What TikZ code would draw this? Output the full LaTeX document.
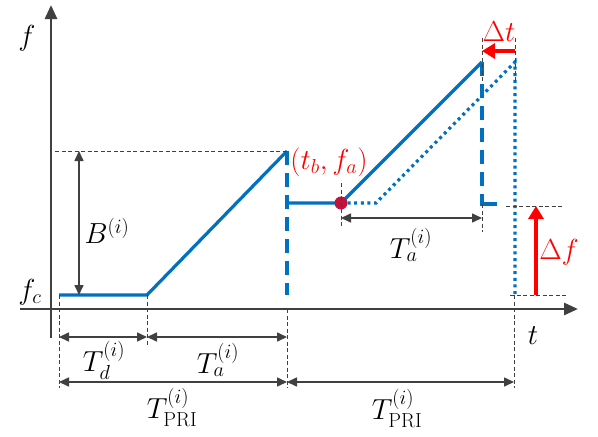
\RequirePackage{fix-cm}
\documentclass[tikz,border=0pt]{standalone}
\usepackage{amsmath}
\usetikzlibrary{arrows.meta}
\definecolor{chirp}{HTML}{0070C0}
\definecolor{axisgray}{HTML}{404040}
\definecolor{shift}{HTML}{FF0000}
\definecolor{dotred}{HTML}{C0143C}

\begin{document}
\begin{tikzpicture}[x=1pt, y=-1pt,
    axis/.style={draw=axisgray, line width=2.8pt, -{Triangle[length=14pt,width=12pt]}},
    sweep/.style={draw=chirp, line width=3.2pt},
    jump/.style={draw=chirp, line width=3.2pt, dash pattern=on 14pt off 8pt},
    shifted/.style={draw=chirp, line width=3.2pt, dash pattern=on 3pt off 3.6pt},
    guide/.style={draw=axisgray, line width=1pt, dash pattern=on 4pt off 2.5pt},
    span/.style={draw=axisgray, line width=1.6pt, {Triangle[length=10pt,width=9pt]}-{Triangle[length=10pt,width=9pt]}},
    offset/.style={draw=shift, line width=4pt, -{Triangle[length=13pt,width=15pt]}},
    lbl/.style={font=\fontsize{29}{34}\selectfont, inner sep=0pt}
]
    \useasboundingbox (0,0) rectangle (598,437);
    % axes
    \coordinate (fbot) at (51,338);
    \coordinate (ftop) at (51,5);
    \coordinate (tleft) at (20,309);
    \coordinate (tright) at (578,309);
    \draw[axis] (fbot) -- (ftop);
    \draw[axis] (tleft) -- (tright);
    \node[lbl] (flab) at (27,38) {$f$};
    \node[lbl] (tlab) at (533,336) {$t$};
    \node[lbl] (fclab) at (30,292) {$f_c$};

    % first chirp
    \coordinate (s0) at (59,295);
    \coordinate (s1) at (147,295);
    \coordinate (s2) at (287,151);
    \coordinate (s3) at (287,295);
    \draw[sweep] (s0) -- (s1) -- (s2);
    \draw[jump] (s2) -- (s3);

    % second chirp
    \coordinate (r0) at (287,203);
    \coordinate (tb) at (341,203);
    \coordinate (r1) at (482,62);
    \coordinate (r4) at (482,194);
    \coordinate (r2) at (482,204);
    \coordinate (r3) at (497,204);
    \draw[sweep] (r0) -- (tb) -- (r1);
    \draw[jump] (r1) -- (r4);
    \draw[sweep] (r4) -- (r2) -- (r3);

    % delayed copy
    \coordinate (q0) at (376,203);
    \coordinate (q1) at (515,62);
    \coordinate (q2) at (515,295);
    \draw[shifted] (tb) -- (q0) -- (q1) -- (q2);
    \fill[dotred] (tb) circle (6.5pt);
    \node[lbl, text=shift] (tblab) at (329,162) {$(t_b,f_a)$};

    % guide lines
    \coordinate (btop) at (55,151);
    \coordinate (g0) at (59,388);
    \coordinate (g1) at (147,345);
    \coordinate (g2a) at (287,309);
    \coordinate (g2b) at (287,388);
    \coordinate (g3a) at (341,183);
    \coordinate (g3b) at (341,227);
    \coordinate (g4a) at (482,38);
    \coordinate (g4b) at (482,83);
    \coordinate (g5a) at (515,38);
    \coordinate (g5b) at (515,83);
    \coordinate (g4c) at (482,232);
    \coordinate (h1a) at (506,206);
    \coordinate (h1b) at (562,206);
    \coordinate (h2a) at (510,295);
    \coordinate (h2b) at (567,295);
    \coordinate (g6a) at (514,295);
    \coordinate (g6b) at (514,388);
    \draw[guide] (btop) -- (s2);
    \draw[guide] (s0) -- (g0);
    \draw[guide] (s1) -- (g1);
    \draw[guide] (g2a) -- (g2b);
    \draw[guide] (g3a) -- (g3b);
    \draw[guide] (g4a) -- (g4b);
    \draw[guide] (g5a) -- (g5b);
    \draw[guide] (r2) -- (g4c);
    \draw[guide] (h1a) -- (h1b);
    \draw[guide] (h2a) -- (h2b);
    \draw[guide] (g6a) -- (g6b);

    % durations
    \draw[span] (79,295) -- (79,151);
    \node[lbl] (blab) at (107,231) {$B^{(i)}$};
    \draw[span] (s0 |- 0,337) -- (s1 |- 0,337);
    \draw[span] (s1 |- 0,337) -- (s2 |- 0,337);
    \node[lbl] (tdlab) at (104,360) {$T_d^{(i)}$};
    \node[lbl] (talab) at (218,360) {$T_a^{(i)}$};
    \draw[span] (s0 |- 0,382) -- (s2 |- 0,382);
    \draw[span] (s2 |- 0,382) -- (g6a |- 0,382);
    \node[lbl] (prilab) at (172,407) {$T_{\mathrm{PRI}}^{(i)}$};
    \node[lbl] (prilabb) at (397,408) {$T_{\mathrm{PRI}}^{(i)}$};
    \draw[span] (tb |- 0,218) -- (r1 |- 0,218);
    \node[lbl] (talabb) at (411,245) {$T_a^{(i)}$};

    % offsets
    \draw[offset] (q1 |- 0,51) -- (r1 |- 0,51);
    \node[lbl, text=shift] (dtlab) at (499,32) {$\Delta t$};
    \draw[offset] (536,295) -- (536,206);
    \node[lbl, text=shift] (dflab) at (559,252) {$\Delta f$};
\end{tikzpicture}
\end{document}
